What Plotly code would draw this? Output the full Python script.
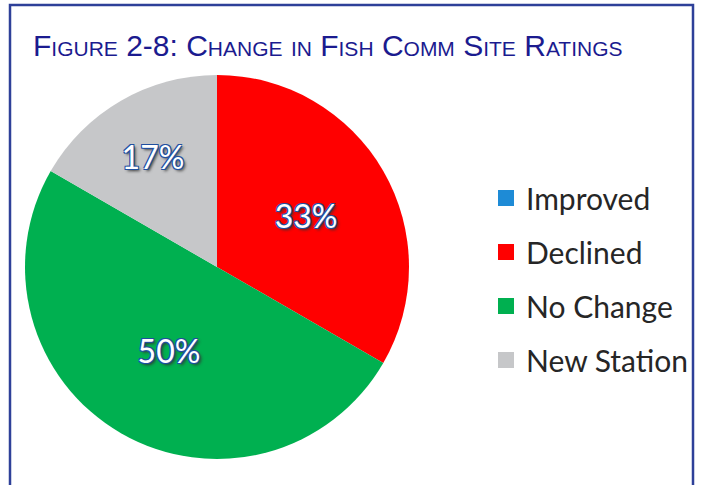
import plotly.graph_objects as go

# site rating changes (share of fish community sites)
labels = ["Improved", "Declined", "No Change", "New Station"]
counts = [0, 2, 3, 1]
colors = ["#1E8BD6", "#FF0000", "#00B050", "#C6C7C9"]

title_text = "Figure 2-8: Change in Fish Comm Site Ratings"

W, H = 701, 485


def px_x(v):
    return v / W


def px_y(v):
    return 1 - v / H


fig = go.Figure()
fig.add_trace(go.Pie(
    labels=labels,
    values=counts,
    sort=False,
    direction="clockwise",
    rotation=0,
    marker=dict(colors=colors, line=dict(width=0)),
    texttemplate="%{percent:.0%}",
    textposition="inside",
    insidetextorientation="horizontal",
    textfont=dict(
        family="Lato, Open Sans, sans-serif", size=32, color="white",
        shadow="1px 1px 0 #1F4FA0, -1px -1px 0 #1F4FA0, 1px -1px 0 #1F4FA0, "
               "-1px 1px 0 #1F4FA0, 2px 2px 3px #333",
    ),
    hoverinfo="label+percent",
    showlegend=False,
    domain=dict(x=[px_x(25), px_x(409)], y=[px_y(459), px_y(75)]),
))

# legend entries, one group each so the rows can be spaced out
for lab, col in zip(labels, colors):
    fig.add_trace(go.Scatter(
        x=[None], y=[None], mode="markers", name=lab, legendgroup=lab,
        marker=dict(symbol="square", size=16, color=col),
    ))

fig.update_layout(
    width=W, height=H,
    margin=dict(l=0, r=0, t=0, b=0),
    paper_bgcolor="white",
    plot_bgcolor="white",
    xaxis=dict(visible=False),
    yaxis=dict(visible=False),
    title=dict(
        text=title_text,
        x=px_x(33), xanchor="left", xref="paper",
        y=px_y(45), yanchor="middle", yref="container",
        font=dict(family="Liberation Sans, Arial", size=30,
                  color="#1B1B8F", variant="small-caps"),
    ),
    legend=dict(
        x=px_x(486), xanchor="left", y=px_y(279), yanchor="middle",
        font=dict(family="Lato, Open Sans, sans-serif", size=30, color="#262626"),
        bgcolor="rgba(0,0,0,0)",
        tracegroupgap=12,
        itemwidth=30,
    ),
    shapes=[dict(
        type="rect", xref="paper", yref="paper",
        x0=px_x(10), x1=px_x(693), y0=-0.2, y1=px_y(5),
        line=dict(color="#2E4099", width=2.5),
    )],
)

# drop the default page margin so the figure sits at the window's corner
fig.write_html("out.html", config={"displayModeBar": False},
               post_script="document.body.style.margin='0';")
